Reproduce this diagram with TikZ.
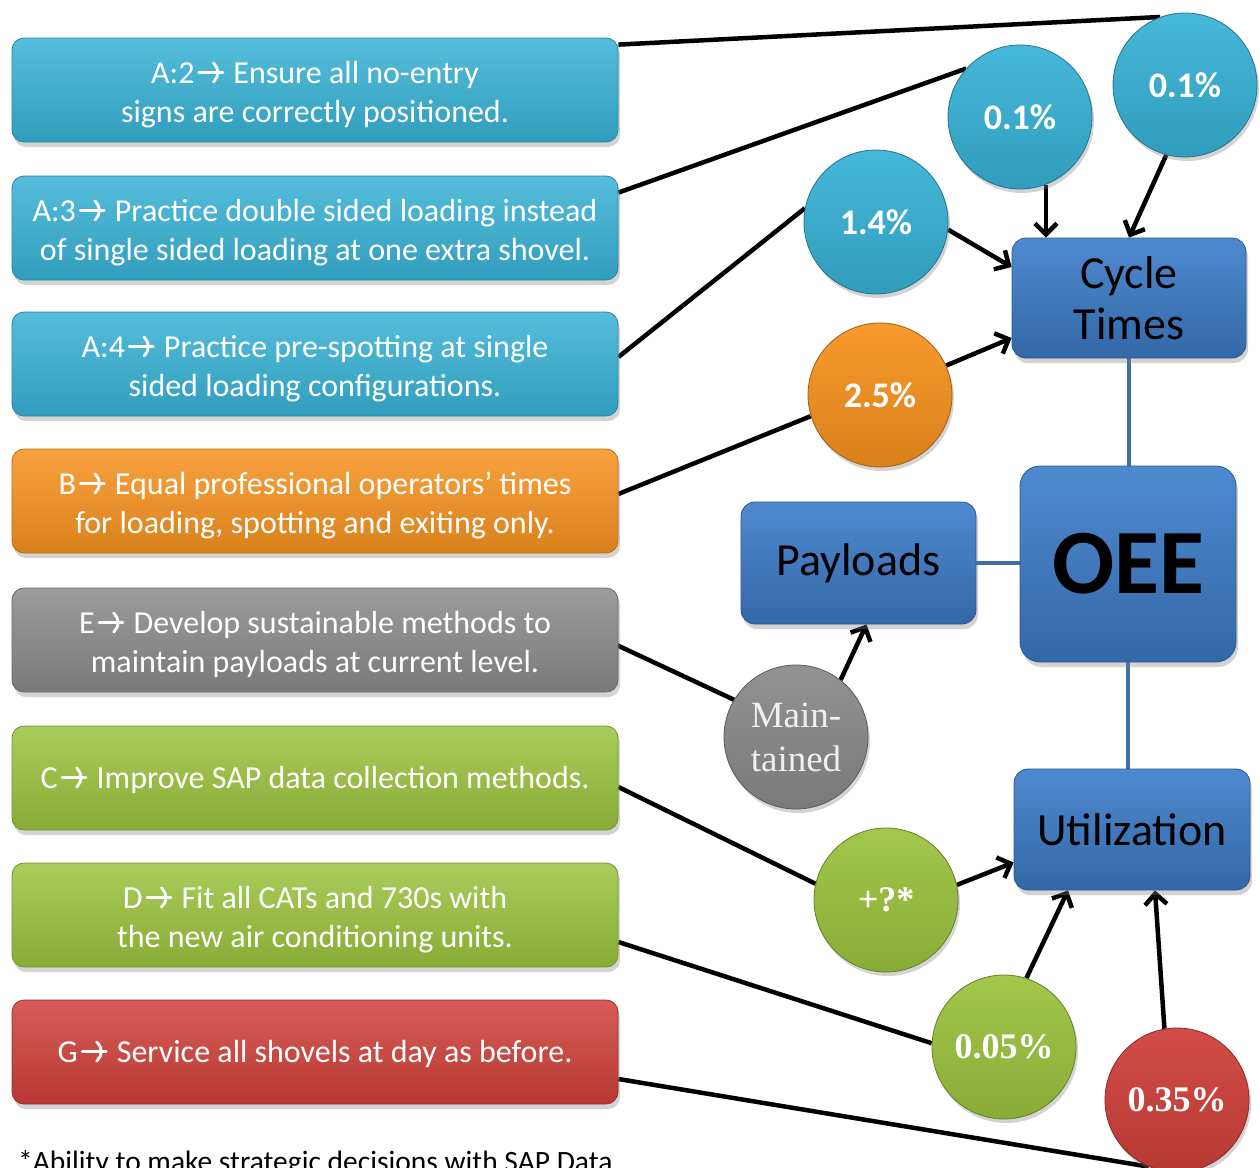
\documentclass[tikz,border=0pt]{standalone}
\usepackage{fontspec}
\setmainfont{Carlito}
\newfontfamily\serifface{Liberation Serif}
\usetikzlibrary{shadows,arrows.meta,calc}
\pgfdeclarelayer{bg}
\pgfsetlayers{bg,main}

\definecolor{cyanA}{HTML}{38B2D6}
\definecolor{orangeA}{HTML}{F7921E}
\definecolor{grayA}{HTML}{8A8A8A}
\definecolor{greenA}{HTML}{9BC33E}
\definecolor{redA}{HTML}{D0403A}
\definecolor{blueA}{HTML}{3F7FCC}
\definecolor{linkblue}{HTML}{3F6FAA}

% open-headed arrow used inside the action texts
\newcommand\myarrow{\kern3pt\tikz[baseline=0pt]{\draw[white, line width=2.8pt, line cap=round, line join=round]
  (0pt,10.5pt) -- (24pt,10.5pt) (14.5pt,20pt) -- (24pt,10.5pt) -- (14.5pt,1pt);}\kern2pt}

\tikzset{
  x=1pt, y=-1pt,
  actionbox/.style={rounded corners=12pt, minimum width=606pt, minimum height=104pt,
    text=white, align=center, font=\fontsize{32}{39}\selectfont,
    text height=64pt, text depth=0pt,
    draw=#1!75!black, line width=0.8pt,
    top color=#1!85!white, bottom color=#1!88!black,
    drop shadow={shadow xshift=2pt, shadow yshift=-5pt, opacity=0.35}},
  oneline/.style={text height=20pt},
  effect/.style={circle, minimum size=144pt, inner sep=0pt, text=white, align=center,
    draw=#1!65!black, line width=0.8pt,
    top color=#1!93!white, bottom color=#1!88!black,
    drop shadow={shadow xshift=2pt, shadow yshift=-4pt, opacity=0.35}},
  kpi/.style={rounded corners=14pt, inner sep=0pt, align=center, text=black,
    draw=blueA!70!black, line width=0.8pt,
    top color=blueA!92!white, bottom color=blueA!82!black,
    drop shadow={shadow xshift=2pt, shadow yshift=-5pt, opacity=0.35}},
  wire/.style={line width=4.5pt, black},
  push/.style={line width=4.5pt, black, -{Straight Barb[length=11pt, width=22pt, line width=4.5pt]}},
  link/.style={line width=3.5pt, linkblue},
  pct/.style={font=\fontsize{36}{40}\selectfont\bfseries},
  pcts/.style={font=\serifface\fontsize{36}{40}\selectfont\bfseries},
}

\begin{document}
\begin{tikzpicture}
\useasboundingbox (0,0) rectangle (1260,1167);

% action boxes
\node[actionbox=cyanA] (b1) at (315,90) {A:2\myarrow{} Ensure all no-entry\\signs are correctly positioned.};
\node[actionbox=cyanA] (b2) at (315,228) {A:3\myarrow{} Practice double sided loading instead\\of single sided loading at one extra shovel.};
\node[actionbox=cyanA] (b3) at (315,364) {A:4\myarrow{} Practice pre-spotting at single\\sided loading configurations.};
\node[actionbox=orangeA] (b4) at (315,501) {B\myarrow{} Equal professional operators’ times\\for loading, spotting and exiting only.};
\node[actionbox=grayA] (b5) at (315,640) {E\myarrow{} Develop sustainable methods to\\maintain payloads at current level.};
\node[actionbox=greenA, oneline] (b6) at (315,778) {C\myarrow{} Improve SAP data collection methods.};
\node[actionbox=greenA] (b7) at (315,915) {D\myarrow{} Fit all CATs and 730s with\\the new air conditioning units.};
\node[actionbox=redA, oneline] (b8) at (315,1052) {G\myarrow{} Service all shovels at day as before.};

% KPI boxes
\node[kpi, minimum width=234pt, minimum height=120pt, font=\fontsize{46}{51}\selectfont] (ct) at (1129,298) {Cycle\\Times};
\node[kpi, minimum width=216pt, minimum height=196pt, font=\fontsize{92}{96}\selectfont\bfseries, rounded corners=20pt] (oee) at (1128,564) {OEE};
\node[kpi, minimum width=235pt, minimum height=122pt, font=\fontsize{46}{51}\selectfont] (pl) at (858.5,563) {Payloads};
\node[kpi, minimum width=236pt, minimum height=121pt, font=\fontsize{46}{51}\selectfont] (ut) at (1132,829.5) {Utilization};

% effect circles
\node[effect=cyanA, pct] (c01b) at (1185,85) {0.1\%};
\node[effect=cyanA, pct] (c01a) at (1020,117) {0.1\%};
\node[effect=cyanA, pct] (c14) at (876,222) {1.4\%};
\node[effect=orangeA, pct] (c25) at (880,395) {2.5\%};
\node[effect=grayA, font=\serifface\fontsize{37}{44}\selectfont, text=white!94!black] (cm) at (796,737) {Main-\\tained};
\node[effect=greenA, pcts] (cq) at (886,900) {+?*};
\node[effect=greenA, pcts] (c005) at (1004,1047) {0.05\%};
\node[effect=redA, pcts] (c035) at (1177,1100) {0.35\%};

% footnote, running off the lower edge
\node[anchor=base west, font=\fontsize{29.5}{32}\selectfont, inner sep=0pt] (note) at (18,1171) {*Ability to make strategic decisions with SAP Data};

\begin{pgfonlayer}{bg}
  % links between the KPI boxes
  \draw[link] (ct.south) -- (ct.south |- oee.north);
  \draw[link] (pl.east) -- (oee.west |- pl.east);
  \draw[link] (oee.south) -- (oee.south |- ut.north);
  % actions to effects
  \draw[wire] ([yshift=-7pt]b1.north east) -- (c01b.110);
  \draw[wire] ([yshift=-17pt]b2.north east) -- (c01a.138);
  \draw[wire] ([yshift=7pt]b3.east) -- (c14.169);
  \draw[wire] ([yshift=7pt]b4.east) -- (c25.197);
  \draw[wire] ([xshift=-6pt,yshift=-3pt]b5.east) -- (cm.149);
  \draw[wire] ([yshift=-9pt]b6.east) -- (cq.167);
  \draw[wire] ([yshift=-27pt]b7.east) -- (c005.177);
  \draw[wire] ([yshift=-27pt]b8.east) -- (c035.247);
  % effects to KPIs
  \draw[push] (c01a.-69) -- (c01a.-69 |- ct.north);
  \draw[push] (c01b.-105) -- (ct.north);
  \draw[push] (c14.-6) -- ([yshift=31pt]ct.west);
  \draw[push] (c25.24) -- ([yshift=-40pt]ct.west);
  \draw[push] (cm.52) -- ([xshift=8pt]pl.south);
  \draw[push] (cq.12) -- ([yshift=-33pt]ut.west);
  \draw[push] (c005.72) -- ([xshift=-64pt]ut.south);
  \draw[push] (c035.100) -- ([xshift=23pt]ut.south);
\end{pgfonlayer}
\end{tikzpicture}
\end{document}
